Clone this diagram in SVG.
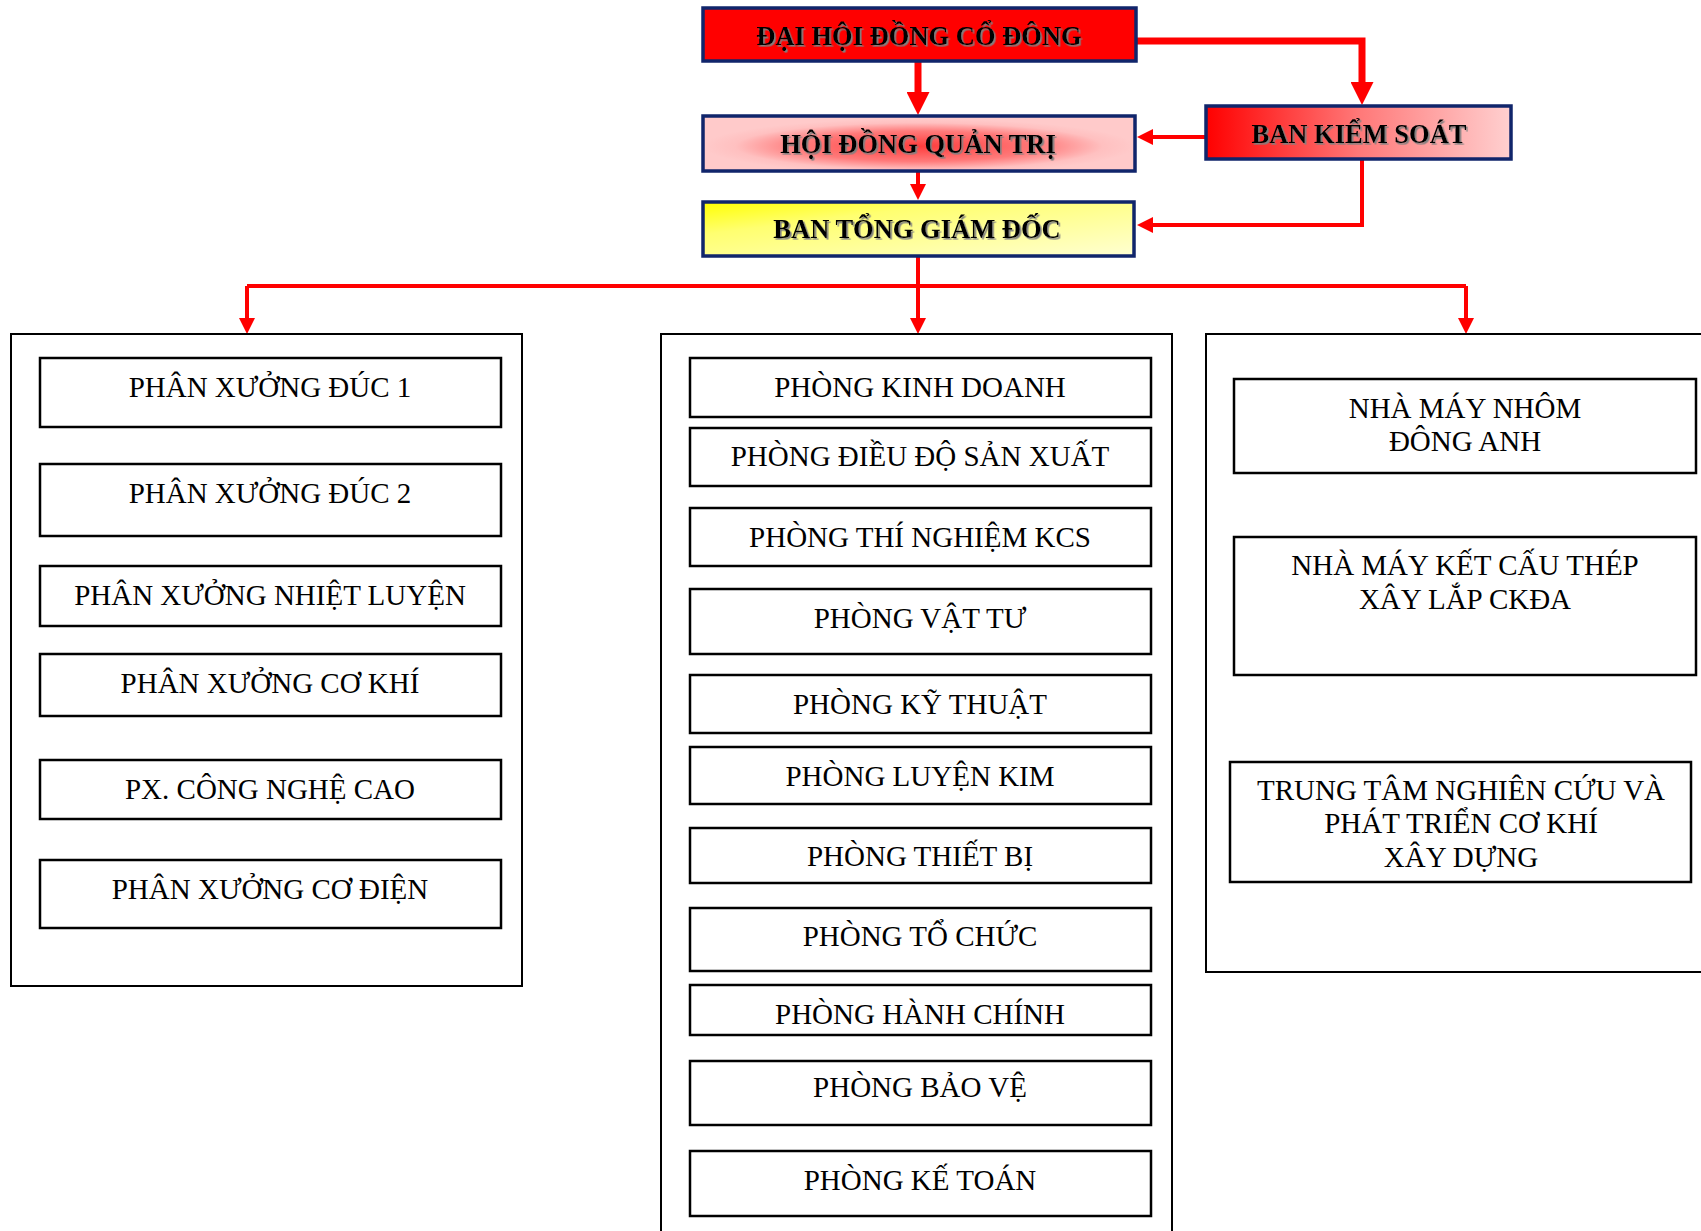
<svg xmlns="http://www.w3.org/2000/svg" width="1701" height="1231" viewBox="0 0 1701 1231">
<style>
.top{stroke:#10256b;stroke-width:3.5}
.ttl{font-family:"Liberation Serif","Times New Roman",serif;font-weight:bold;font-size:26.5px;fill:#000;text-anchor:middle;filter:url(#sh)}
.ctn{fill:none;stroke:#000;stroke-width:2}
.bx{fill:#fff;stroke:#000;stroke-width:2.5}
.lb{font-family:"Liberation Serif","Times New Roman",serif;font-size:29px;fill:#000;text-anchor:middle}
.cn{fill:none;stroke:#ff0000;stroke-linejoin:miter}
.thick{stroke-width:7;marker-end:url(#ahb)}
.thin{stroke-width:4;marker-end:url(#ahs)}
</style>
<defs>
<filter id="sh" x="-5%" y="-20%" width="110%" height="140%">
<feDropShadow dx="1.6" dy="1.6" stdDeviation="0.4" flood-color="#808080" flood-opacity="1"/>
</filter>
<radialGradient id="gHd" cx="0.5" cy="0.55" r="0.5">
<stop offset="0" stop-color="#ff3c3c"/>
<stop offset="0.55" stop-color="#ff7a7a"/>
<stop offset="0.85" stop-color="#ffc0c0"/>
<stop offset="1" stop-color="#ffcaca"/>
</radialGradient>
<linearGradient id="gBk" x1="0" y1="0" x2="1" y2="0">
<stop offset="0" stop-color="#ff0000"/>
<stop offset="0.5" stop-color="#ff7878"/>
<stop offset="1" stop-color="#ffd0d0"/>
</linearGradient>
<linearGradient id="gBt" x1="0" y1="0" x2="1" y2="1">
<stop offset="0" stop-color="#ffff00"/>
<stop offset="0.3" stop-color="#ffff70"/>
<stop offset="1" stop-color="#ffffd2"/>
</linearGradient>
<marker id="ahb" markerUnits="userSpaceOnUse" viewBox="0 0 23 23" markerWidth="23" markerHeight="23" refX="0" refY="11.5" orient="auto">
<path d="M0,0 L23,11.5 L0,23 z" fill="#ff0000"/>
</marker>
<marker id="ahs" markerUnits="userSpaceOnUse" viewBox="0 0 16 16" markerWidth="16" markerHeight="16" refX="0" refY="8" orient="auto">
<path d="M0,0 L16,8 L0,16 z" fill="#ff0000"/>
</marker>
</defs>
<rect width="1701" height="1231" fill="#fff"/>

<g id="connectors">
<path class="cn thick" d="M918,62 V92"/>
<path class="cn thick" d="M1137,41 H1362 V82"/>
<path class="cn thin" d="M1205,137 H1153"/>
<path class="cn thin" d="M1362,160 V225 H1153"/>
<path class="cn thin" d="M918,172 V184"/>
<path class="cn thin" d="M918,257 V318"/>
<path class="cn" stroke-width="4" d="M247,286 H1466"/>
<path class="cn thin" d="M247,286 V318"/>
<path class="cn thin" d="M1466,286 V318"/>
</g>

<g id="dhdcd">
<rect class="top" x="703" y="8" width="433" height="53" fill="#ff0000"/>
<text class="ttl" x="919" y="45">ĐẠI HỘI ĐỒNG CỔ ĐÔNG</text>
</g>
<g id="hdqt">
<rect class="top" x="703" y="116" width="432" height="55" fill="url(#gHd)"/>
<text class="ttl" x="918" y="153">HỘI ĐỒNG QUẢN TRỊ</text>
</g>
<g id="bks">
<rect class="top" x="1206" y="106" width="305" height="53" fill="url(#gBk)"/>
<text class="ttl" x="1359" y="143">BAN KIỂM SOÁT</text>
</g>
<g id="btgd">
<rect class="top" x="703" y="202" width="431" height="54" fill="url(#gBt)"/>
<text class="ttl" x="917" y="238">BAN TỔNG GIÁM ĐỐC</text>
</g>

<g id="col-left">
<rect class="ctn" x="11" y="334" width="511" height="652"/>
<g id="px-duc1"><rect class="bx" x="40" y="358" width="461" height="69"/><text class="lb" x="270" y="397">PHÂN XƯỞNG ĐÚC 1</text></g>
<g id="px-duc2"><rect class="bx" x="40" y="464" width="461" height="72"/><text class="lb" x="270" y="503">PHÂN XƯỞNG ĐÚC 2</text></g>
<g id="px-nhietluyen"><rect class="bx" x="40" y="566" width="461" height="60"/><text class="lb" x="270" y="605">PHÂN XƯỞNG NHIỆT LUYỆN</text></g>
<g id="px-cokhi"><rect class="bx" x="40" y="654" width="461" height="62"/><text class="lb" x="270" y="693">PHÂN XƯỞNG CƠ KHÍ</text></g>
<g id="px-cnc"><rect class="bx" x="40" y="760" width="461" height="59"/><text class="lb" x="270" y="799">PX. CÔNG NGHỆ CAO</text></g>
<g id="px-codien"><rect class="bx" x="40" y="860" width="461" height="68"/><text class="lb" x="270" y="899">PHÂN XƯỞNG CƠ ĐIỆN</text></g>
</g>

<g id="col-mid">
<rect class="ctn" x="661" y="334" width="511" height="920"/>
<g id="p-kinhdoanh"><rect class="bx" x="690" y="358" width="461" height="59"/><text class="lb" x="920" y="397">PHÒNG KINH DOANH</text></g>
<g id="p-dieudo"><rect class="bx" x="690" y="428" width="461" height="58"/><text class="lb" x="920" y="466">PHÒNG ĐIỀU ĐỘ SẢN XUẤT</text></g>
<g id="p-thinghiem"><rect class="bx" x="690" y="508" width="461" height="58"/><text class="lb" x="920" y="547">PHÒNG THÍ NGHIỆM KCS</text></g>
<g id="p-vattu"><rect class="bx" x="690" y="589" width="461" height="65"/><text class="lb" x="920" y="628">PHÒNG VẬT TƯ</text></g>
<g id="p-kythuat"><rect class="bx" x="690" y="675" width="461" height="58"/><text class="lb" x="920" y="714">PHÒNG KỸ THUẬT</text></g>
<g id="p-luyenkim"><rect class="bx" x="690" y="747" width="461" height="57"/><text class="lb" x="920" y="786">PHÒNG LUYỆN KIM</text></g>
<g id="p-thietbi"><rect class="bx" x="690" y="828" width="461" height="55"/><text class="lb" x="920" y="866">PHÒNG THIẾT BỊ</text></g>
<g id="p-tochuc"><rect class="bx" x="690" y="908" width="461" height="63"/><text class="lb" x="920" y="946">PHÒNG TỔ CHỨC</text></g>
<g id="p-hanhchinh"><rect class="bx" x="690" y="985" width="461" height="50"/><text class="lb" x="920" y="1024">PHÒNG HÀNH CHÍNH</text></g>
<g id="p-baove"><rect class="bx" x="690" y="1061" width="461" height="64"/><text class="lb" x="920" y="1097">PHÒNG BẢO VỆ</text></g>
<g id="p-ketoan"><rect class="bx" x="690" y="1151" width="461" height="65"/><text class="lb" x="920" y="1190">PHÒNG KẾ TOÁN</text></g>
</g>

<g id="col-right">
<rect class="ctn" x="1206" y="334" width="520" height="638"/>
<g id="nm-nhom"><rect class="bx" x="1234" y="379" width="462" height="94"/><text class="lb" x="1465" y="418">NHÀ MÁY NHÔM</text><text class="lb" x="1465" y="451">ĐÔNG ANH</text></g>
<g id="nm-ketcau"><rect class="bx" x="1234" y="537" width="462" height="138"/><text class="lb" x="1465" y="575">NHÀ MÁY KẾT CẤU THÉP</text><text class="lb" x="1465" y="609">XÂY LẮP CKĐA</text></g>
<g id="tt-nghiencuu"><rect class="bx" x="1230" y="762" width="461" height="120"/><text class="lb" x="1461" y="800">TRUNG TÂM NGHIÊN CỨU VÀ</text><text class="lb" x="1461" y="833">PHÁT TRIỂN CƠ KHÍ</text><text class="lb" x="1461" y="867">XÂY DỰNG</text></g>
</g>
</svg>
